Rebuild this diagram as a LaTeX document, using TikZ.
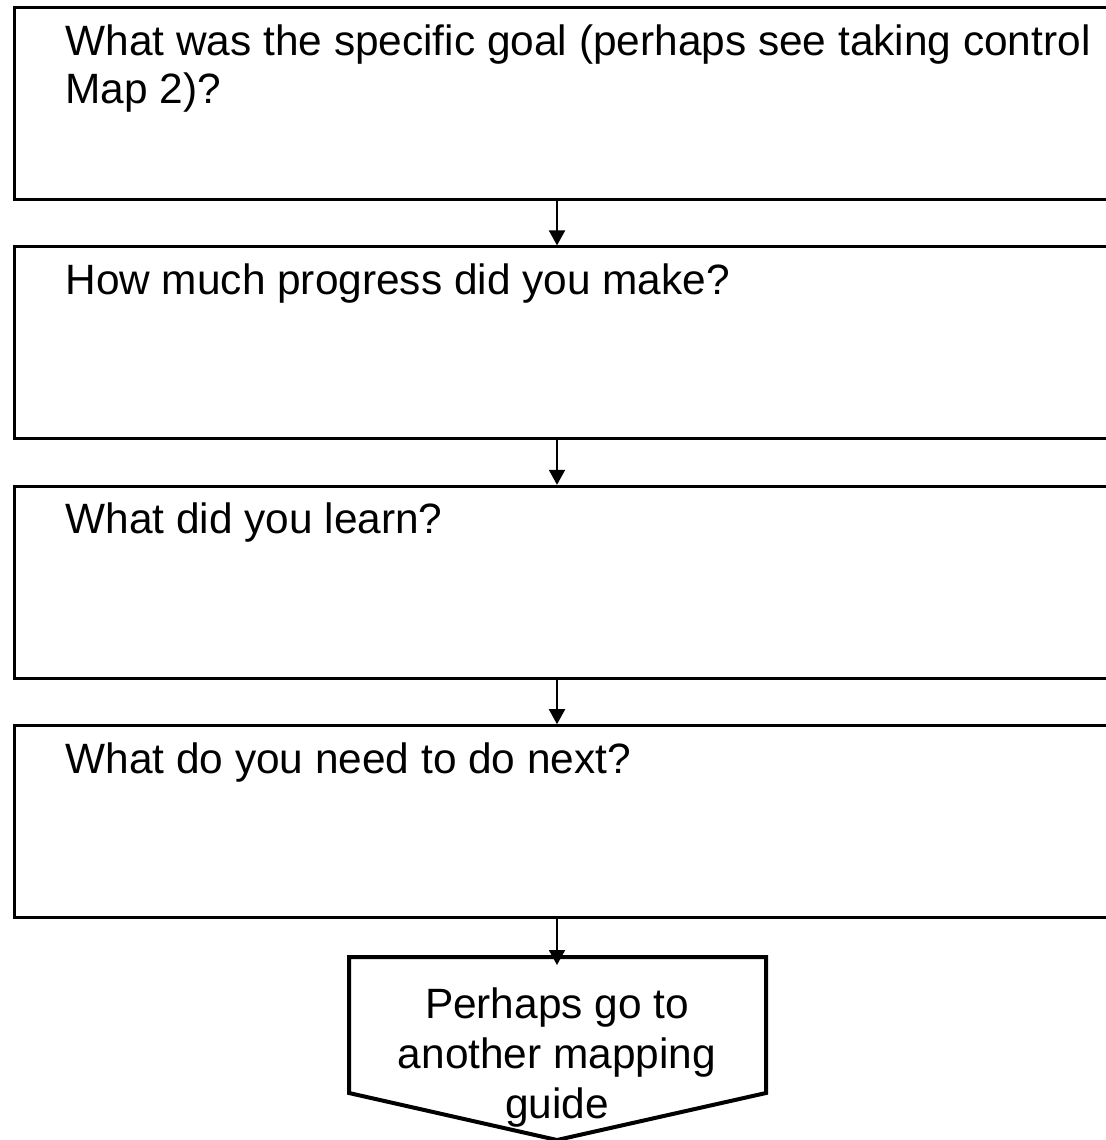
\documentclass[tikz,border=0pt]{standalone}
\usepackage{fontspec}
\setmainfont{Liberation Sans}
\usetikzlibrary{arrows.meta, positioning}

\begin{document}
\begin{tikzpicture}[
    x=0.5pt, y=-0.5pt,
    >={Triangle[length=7.5pt, width=8pt]},
    node distance=22.2pt,
    box/.style={
        draw, rectangle, minimum width=551pt, minimum height=96pt,
        line width=1.5pt, inner sep=0pt
    },
    question/.style={
        anchor=north west, inner sep=0pt, align=left,
        xshift=26pt, yshift=-9pt, font=\fontsize{21.2}{24}\selectfont
    },
    guide/.style={
        anchor=north, inner sep=0pt, align=center,
        font=\fontsize{21.2}{25}\selectfont
    },
    link/.style={->, line width=1pt}
]

\useasboundingbox (0,0) rectangle (1105,1140);

\node [box, anchor=north west] (goal) at (13,6) {};
\node [box, below=of goal] (progress) {};
\node [box, below=of progress] (learn) {};
\node [box, below=of learn] (next) {};

\node [question] (goaltext) at (goal.north west)
    {What was the specific goal (perhaps see taking control\\Map 2)?};
\node [question] (progresstext) at (progress.north west)
    {How much progress did you make?};
\node [question] (learntext) at (learn.north west)
    {What did you learn?};
\node [question] (nexttext) at (next.north west)
    {What do you need to do next?};

% pentagon pointing down
\coordinate (guidetop) at (557,957);
\draw [line width=2pt] (349,957) -- (766,957) -- (766,1093)
    -- (557,1140) -- (349,1093) -- cycle;
\node [guide] (guidetext) at (557,987)
    {Perhaps go to\\another mapping\\guide};

\draw [link] (goal.south -| guidetop) -- (progress.north -| guidetop);
\draw [link] (progress.south -| guidetop) -- (learn.north -| guidetop);
\draw [link] (learn.south -| guidetop) -- (next.north -| guidetop);
\draw [link] (next.south -| guidetop) -- ([yshift=-4pt]guidetop);

\end{tikzpicture}
\end{document}
